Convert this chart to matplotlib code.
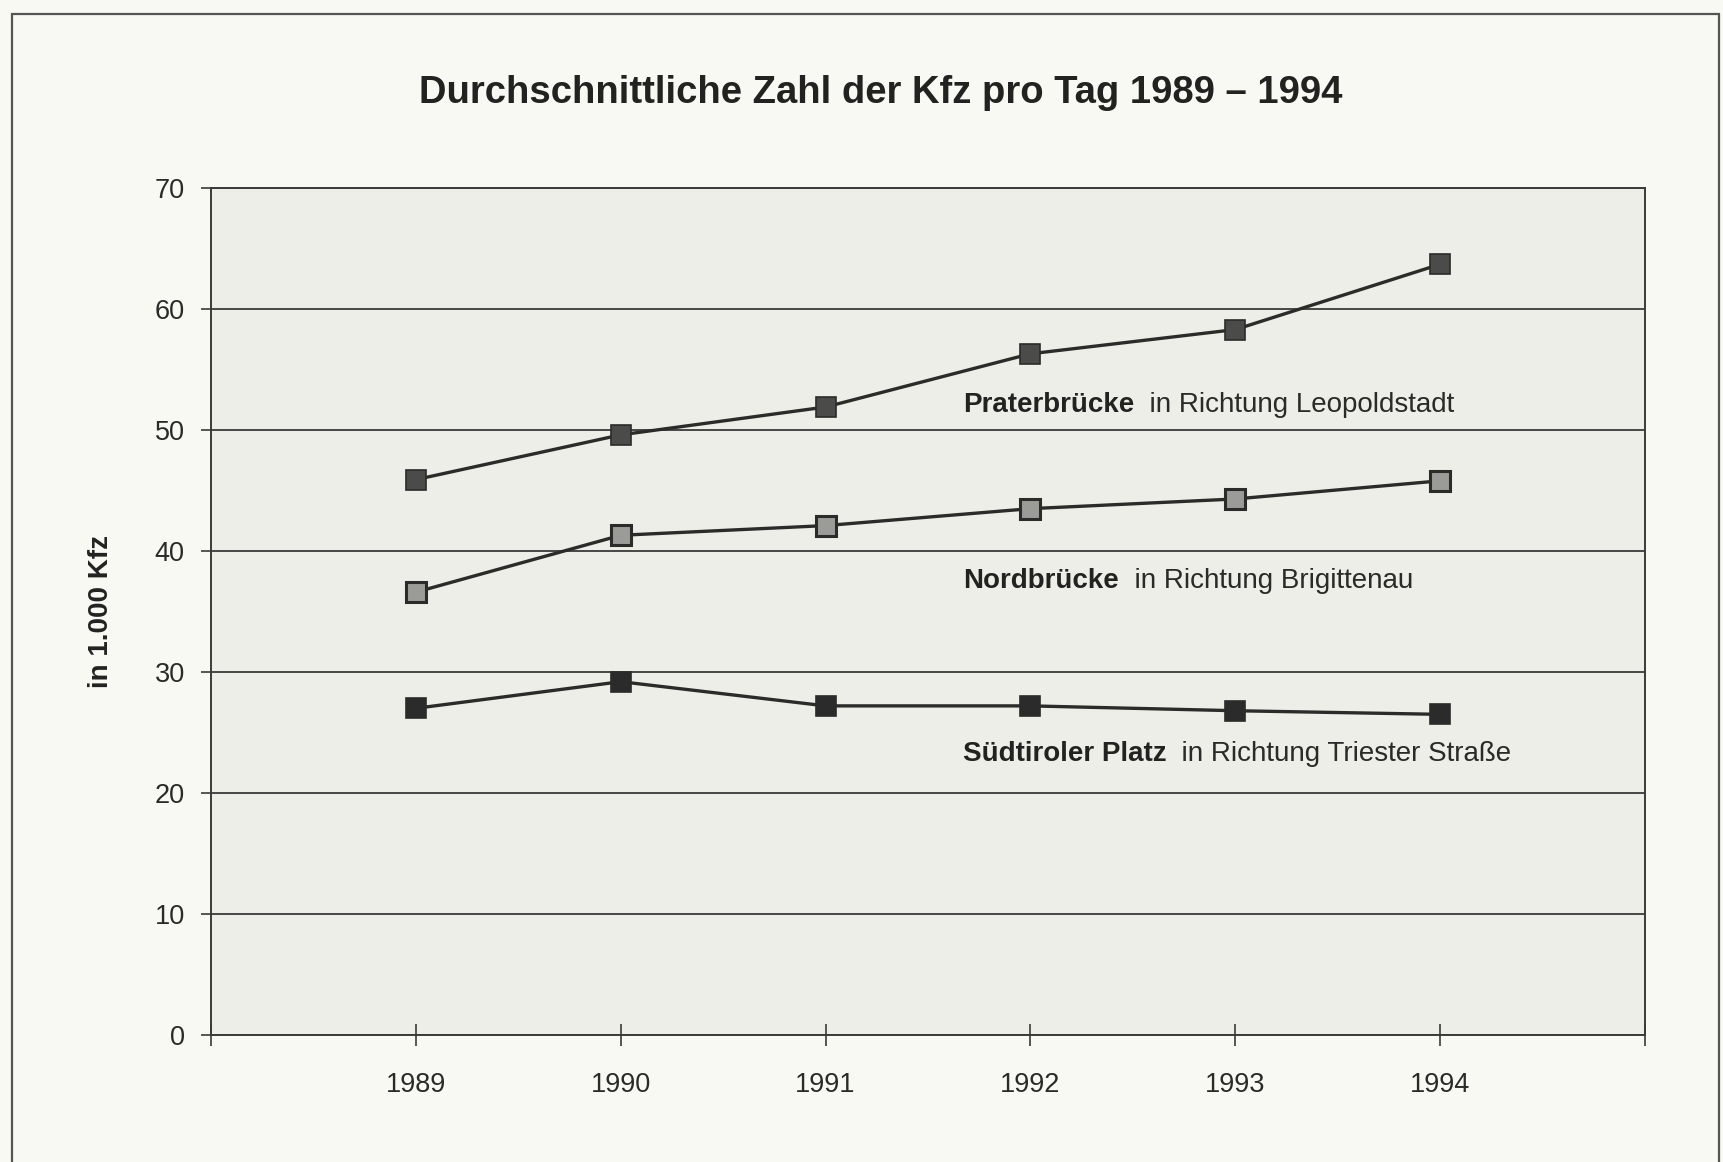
import matplotlib.pyplot as plt
from matplotlib.patches import Rectangle

# Durchschnittliche Zahl der Kfz pro Tag (in 1.000)
years = [1989, 1990, 1991, 1992, 1993, 1994]
prater = [45.9, 49.6, 51.9, 56.3, 58.3, 63.7]
nord = [36.6, 41.3, 42.1, 43.5, 44.3, 45.8]
suedtirol = [27.0, 29.2, 27.2, 27.2, 26.8, 26.5]

# labels: bold place name + regular direction
label_bold = ["Praterbrücke", "Nordbrücke", "Südtiroler Platz"]
label_rest = ["  in Richtung Leopoldstadt", "  in Richtung Brigittenau",
              "  in Richtung Triester Straße"]
label_y = [52.1, 37.5, 23.2]

plt.rcParams['font.family'] = ['Liberation Sans', 'DejaVu Sans']

fig = plt.figure(figsize=(17.23, 11.62), dpi=100, facecolor='#f9f9f4')
ax = fig.add_axes([0.1225, 0.1093, 0.8322, 0.7289])
ax.set_facecolor('#eeeee8')

line_col = '#2b2b29'
ax.plot(years, prater, '-s', color=line_col, lw=2.4, ms=15,
        mfc='#4b4b49', mec='#2b2b29', mew=1.2, zorder=4)
ax.plot(years, nord, '-s', color=line_col, lw=2.4, ms=15,
        mfc='#9b9b98', mec='#2b2b29', mew=2.2, zorder=4)
ax.plot(years, suedtirol, '-s', color=line_col, lw=2.4, ms=15,
        mfc='#2b2b2b', mec='#2b2b29', mew=1.2, zorder=4)

for b, r, y in zip(label_bold, label_rest, label_y):
    t = ax.text(1991.67, y, b, fontsize=20, fontweight='bold',
                color='#222220', va='center', ha='left', zorder=5)
    ax.annotate(r, xycoords=t, xy=(1, 0), va='bottom', ha='left',
                fontsize=20, color='#2a2a28', zorder=5)

ax.set_xlim(1988, 1995)
ax.set_ylim(0, 70)
ax.set_yticks(range(0, 71, 10))
ax.set_xticks(range(1988, 1996))
ax.set_xticklabels([''] + [str(y) for y in years] + [''])
ax.yaxis.grid(True, color='#3a3a38', lw=1.3)
ax.set_axisbelow(True)

for s in ax.spines.values():
    s.set_color('#3a3a38')
    s.set_linewidth(1.4)

ax.tick_params(axis='x', direction='inout', length=16, width=1.2,
               color='#3a3a38', pad=19, labelsize=19.5, labelcolor='#2a2a28')
ax.tick_params(axis='y', direction='out', length=7, width=1.2,
               color='#3a3a38', pad=12, labelsize=19.5, labelcolor='#2a2a28')

ax.set_ylabel('in 1.000 Kfz', fontsize=20, fontweight='bold', color='#222220')
ax.yaxis.set_label_coords(-0.068, 0.5)

fig.text(0.511, 0.92, 'Durchschnittliche Zahl der Kfz pro Tag 1989 – 1994',
         ha='center', va='center', fontsize=27.5, fontweight='bold',
         color='#222220')

# outer frame of the scanned page
fig.patches.append(Rectangle((0.007, -0.05), 0.9907, 1.038,
                             transform=fig.transFigure, fill=False,
                             edgecolor='#555553', lw=1.6))

fig.savefig('out.png', dpi=100, facecolor=fig.get_facecolor())
